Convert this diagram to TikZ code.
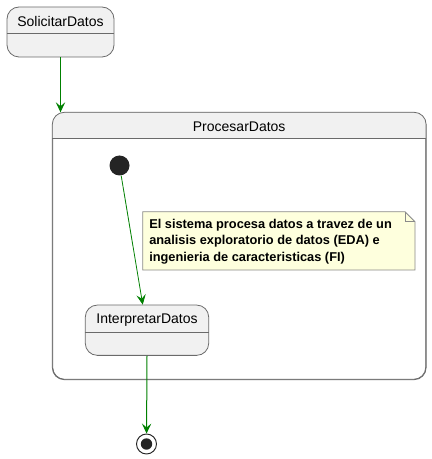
\documentclass[tikz,border=0pt]{standalone}
\usepackage{fontspec}
\setmainfont{Liberation Sans}
\usetikzlibrary{calc,arrows.meta}

\definecolor{statefill}{HTML}{F1F1F1}
\definecolor{stateborder}{HTML}{6A6A6A}
\definecolor{notefill}{HTML}{FEFFDD}
\definecolor{noteborder}{HTML}{8A8A8A}
\definecolor{transgreen}{HTML}{008000}

\tikzstyle{state} = [draw=stateborder,fill=statefill,rounded corners=9pt,
	line width=0.6pt,inner sep=0pt]
\tikzstyle{statename} = [font=\fontsize{10.5pt}{12pt}\selectfont,inner sep=0pt]
\tikzstyle{statesep} = [draw=stateborder,line width=0.6pt]
\tikzstyle{trans} = [draw=transgreen,line width=0.75pt,
	-{Stealth[length=7.5pt,width=7pt,inset=3pt]}]
\tikzstyle{notebox} = [draw=noteborder,fill=notefill,line width=0.6pt]
\tikzstyle{notetext} = [font=\bfseries\fontsize{9.6pt}{12.4pt}\selectfont,
	align=left,inner sep=0pt]

\begin{document}
\begin{tikzpicture}[x=0.75pt,y=-0.75pt]
	\useasboundingbox (0,0) rectangle (431,459);

	% composite state
	\node[state,fill=white,minimum width=373*0.75pt,minimum height=266.6*0.75pt] (proc) at (239.2,246) {};
	\fill[statefill] ($(proc.north west)+(0,26.3)$) {[rounded corners=9pt] -- (proc.north west)
		-- (proc.north east)} -- ($(proc.north east)+(0,26.3)$) -- cycle;
	\draw[statesep,rounded corners=9pt] (proc.north west) rectangle (proc.south east);
	\node[statename] (proctitle) at ($(proc.north)+(0,14.5)$) {ProcesarDatos};
	\draw[statesep] ($(proc.north west)+(0,26.3)$) -- ($(proc.north east)+(0,26.3)$);

	% simple states
	\node[state,minimum width=107*0.75pt,minimum height=50*0.75pt] (sol) at (60.5,32) {};
	\node[statename] (soltitle) at ($(sol.north)+(0,15)$) {SolicitarDatos};
	\draw[statesep] ($(sol.north west)+(0,27)$) -- ($(sol.north east)+(0,27)$);

	\node[state,minimum width=123.4*0.75pt,minimum height=50.3*0.75pt] (interp) at (147,330.2) {};
	\node[statename] (interptitle) at ($(interp.north)+(0,15)$) {InterpretarDatos};
	\draw[statesep] ($(interp.north west)+(0,27.3)$) -- ($(interp.north east)+(0,27.3)$);

	% pseudo states
	\node[circle,fill=black!86,minimum size=20*0.75pt,inner sep=0pt] (init) at (119.5,165.5) {};
	\node[circle,draw=black!86,line width=0.7pt,fill=white,minimum size=20*0.75pt,inner sep=0pt] (final) at (146.5,444) {};
	\node[circle,fill=black!86,minimum size=11.4*0.75pt,inner sep=0pt] (finaldot) at (final) {};

	% note
	\coordinate (nw) at (142.7,211.7);
	\coordinate (se) at (415,270);
	\draw[notebox] (nw) -- ($(se|-nw)+(-10,0)$) -- ($(se|-nw)+(0,10)$) -- (se) -- (nw|-se) -- cycle;
	\draw[notebox,fill=none] ($(se|-nw)+(-10,0)$) -- ($(se|-nw)+(-10,10)$) -- ($(se|-nw)+(0,10)$);
	\node[notetext,anchor=north west] (note) at (149,218.5) {El sistema procesa datos a travez de un\\
		analisis exploratorio de datos (EDA) e\\
		ingenieria de caracteristicas (FI)};

	% transitions
	\draw[trans] (sol.south) -- (sol.south|-proc.north);
	\draw[trans,line width=0.6pt] (init) -- (interp);
	\draw[trans] (interp.south) -- (final);
\end{tikzpicture}
\end{document}
